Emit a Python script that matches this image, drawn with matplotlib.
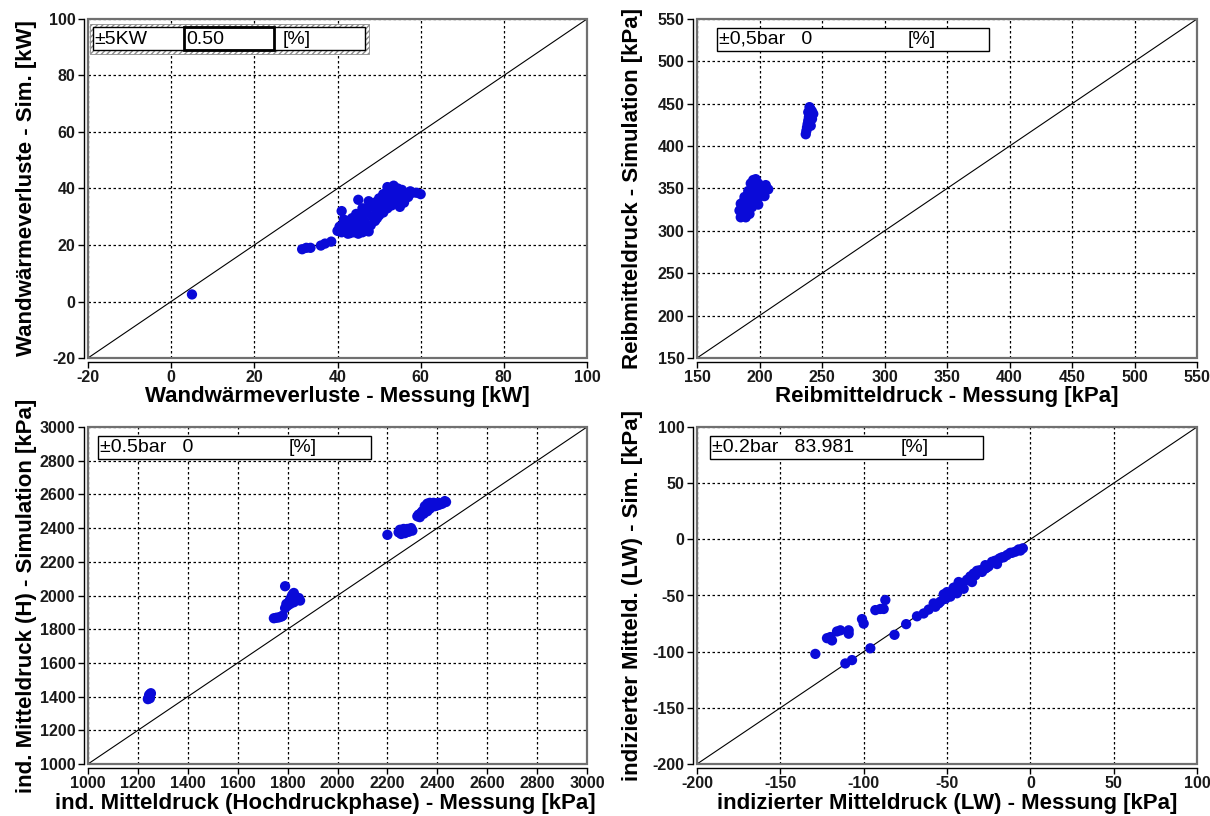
import matplotlib
matplotlib.use("Agg")
import matplotlib.pyplot as plt
from matplotlib.patches import Rectangle
import numpy as np

plt.rcParams['font.family'] = ['Liberation Sans', 'DejaVu Sans']
plt.rcParams['axes.unicode_minus'] = False

# ---------------- data ----------------
# Panel 1: Wandwärmeverluste [kW]
tl_x = [5.0, 31.5, 32.5, 33.5, 36.0, 37.0, 38.5,
        40.0, 40.5, 41.0, 41.0, 41.5, 42.0, 42.5, 43.0, 43.0, 43.5, 44.0, 44.5, 44.5,
        45.0, 45.0, 45.5, 45.5, 46.0, 46.0, 46.5, 47.0, 47.0, 47.5, 48.0, 48.0, 48.5,
        49.0, 49.0, 49.5, 50.0, 50.0, 50.5, 51.0, 51.0, 51.5, 52.0, 52.0, 52.5, 53.0,
        53.0, 53.5, 54.0, 54.0, 54.5, 55.0, 55.0, 55.5, 56.0, 56.0, 57.0, 57.5, 58.0,
        59.0, 60.0, 44.0, 47.5, 42.5, 41.5, 46.5, 49.5, 52.5, 55.5, 50.5]
tl_y = [2.5, 18.5, 19.0, 19.0, 19.8, 20.5, 21.2,
        25.0, 26.5, 24.5, 32.0, 27.5, 25.5, 28.5, 24.2, 27.0, 29.5, 25.5, 28.0, 31.0,
        24.0, 36.0, 26.5, 30.0, 24.5, 33.0, 28.5, 25.0, 31.5, 35.5, 27.0, 33.5, 30.0,
        28.5, 35.0, 32.0, 30.5, 36.5, 33.5, 31.5, 38.0, 35.0, 33.0, 40.5, 36.5, 34.0,
        39.0, 41.0, 35.5, 38.0, 40.0, 33.5, 37.0, 39.5, 35.0, 38.5, 37.0, 39.0, 38.5,
        38.5, 38.0, 24.5, 24.8, 24.0, 29.0, 26.0, 29.5, 38.5, 36.5, 35.0]

# Panel 2: Reibmitteldruck [kPa]
tr_x = [185, 187, 189, 184, 186, 185, 187, 190, 191, 189, 191, 188, 193, 194, 192, 194,
        193, 195, 197, 198, 199, 196, 200, 199, 202, 203, 205, 207, 204, 199, 192, 190,
        191, 197, 201, 205, 195,
        237, 237.5, 238, 238.5, 239, 239.5, 240, 239, 241, 240, 242, 243, 242, 240, 241]
tr_y = [316, 319, 316, 324, 328, 332, 334, 330, 323, 338, 342, 340, 332, 328, 346, 351,
        356, 360, 353, 346, 339, 336, 350, 356, 345, 351, 352, 349, 341, 331, 320, 326,
        347, 361, 343, 354, 341,
        414, 418, 422, 426, 430, 434, 437, 440, 443, 446, 441, 438, 432, 428, 424]

# Panel 3: ind. Mitteldruck (Hochdruckphase) [kPa]
bl_x = [1240, 1243, 1247, 1250, 1252, 1245, 1248,
        1745, 1755, 1765, 1775, 1780, 1790, 1790, 1800, 1805, 1795, 1810, 1815, 1820,
        1825, 1830, 1835, 1840, 1850, 1845, 1810, 1825,
        2200, 2245, 2250, 2255, 2260, 2265, 2270, 2275, 2280, 2285, 2290, 2295, 2300,
        2320, 2325, 2330, 2335, 2340, 2345, 2350, 2350, 2355, 2360, 2365, 2370, 2375,
        2380, 2385, 2390, 2395, 2400, 2405, 2410, 2420, 2430, 2435, 2360, 2370]
bl_y = [1385, 1395, 1405, 1415, 1420, 1410, 1390,
        1865, 1868, 1870, 1875, 1880, 2055, 1925, 1940, 1960, 1950, 1975, 1990, 2005,
        2015, 1990, 1980, 1975, 1970, 1985, 1950, 1960,
        2360, 2375, 2390, 2365, 2380, 2395, 2370, 2385, 2395, 2378, 2390, 2400, 2385,
        2470, 2480, 2465, 2490, 2500, 2485, 2510, 2530, 2520, 2545, 2535, 2550, 2525,
        2540, 2550, 2530, 2545, 2535, 2550, 2540, 2545, 2560, 2555, 2500, 2515]

# Panel 4: indizierter Mitteldruck (LW) [kPa]
br_x = [-129, -122, -119, -120, -116, -114, -109, -109, -101, -100, -93, -90, -88, -87,
        -111, -107, -96, -81.5, -74.5,
        -68, -64, -61, -57, -54, -51, -49, -47, -44, -41, -37, -34, -30, -27, -23, -18.5,
        -14, -9, -4.5,
        -52, -46, -42, -38, -33, -29, -25, -21, -16, -12, -7, -55, -40, -35, -31, -27,
        -20, -48, -44, -58, -50, -43, -36, -32, -26, -22, -17, -11, -6]
br_y = [-102, -88, -90, -87, -82, -81, -81, -84, -71, -75, -63, -62, -62, -54,
        -110.5, -107.5, -97, -85, -75.5,
        -68.5, -66, -62.5, -60, -55.5, -53, -50, -47, -42, -39, -36, -30.5, -27.5, -23,
        -20, -17, -14, -11, -8,
        -49, -43, -40, -36, -32, -29, -24, -19, -16, -12, -9, -57, -44, -38, -28, -26,
        -22, -51, -48, -57, -47, -38, -33, -28, -25, -20, -16, -12, -10]

panels = [
    dict(x=tl_x, y=tl_y, lim=(-20, 100), step=20,
         xlabel='Wandwärmeverluste - Messung [kW]',
         ylabel='Wandwärmeverluste - Sim. [kW]'),
    dict(x=tr_x, y=tr_y, lim=(150, 550), step=50,
         xlabel='Reibmitteldruck - Messung [kPa]',
         ylabel='Reibmitteldruck - Simulation [kPa]'),
    dict(x=bl_x, y=bl_y, lim=(1000, 3000), step=200,
         xlabel='ind. Mitteldruck (Hochdruckphase) - Messung [kPa]',
         ylabel='ind. Mitteldruck (H) - Simulation [kPa]'),
    dict(x=br_x, y=br_y, lim=(-200, 100), step=50,
         xlabel='indizierter Mitteldruck (LW) - Messung [kPa]',
         ylabel='indizierter Mitteld. (LW) - Sim. [kPa]'),
]

W, H = 1210, 816
fig = plt.figure(figsize=(W / 100, H / 100), dpi=100)
fig.patch.set_facecolor('white')

# axes boxes in pixel coords (left, top, right, bottom)
boxes = [(88, 19, 587, 358), (697, 19, 1197, 358),
         (88, 427, 587, 764), (697, 427, 1197, 764)]
ylabel_x = [37, 643, 37, 643]
xlabel_top = [386, 386, 793, 793]
xlabel_cx = [337, 947, 325, 947]

for p, (l, t, r, b), ylx, xlt, xlc in zip(panels, boxes, ylabel_x, xlabel_top, xlabel_cx):
    ax = fig.add_axes([l / W, 1 - b / H, (r - l) / W, (b - t) / H])
    lo, hi = p['lim']
    ax.set_xlim(lo, hi)
    ax.set_ylim(lo, hi)
    ticks = np.arange(lo, hi + p['step'] / 2, p['step'])
    ax.set_xticks(ticks)
    ax.set_yticks(ticks)
    ax.grid(True, color='black', linestyle=(0, (2, 2)), linewidth=0.9)
    ax.set_axisbelow(True)
    ax.plot([lo, hi], [lo, hi], color='black', linewidth=0.8, zorder=2)
    ax.scatter(p['x'], p['y'], s=55, color='#0a0ad8', edgecolors='none', zorder=3)
    for s in ['top', 'right']:
        ax.spines[s].set_visible(False)
    for s in ['left', 'bottom']:
        ax.spines[s].set_position(('outward', 3))
        ax.spines[s].set_linewidth(1.0)
        ax.spines[s].set_color('black')
    ax.add_patch(Rectangle((0, 0), 1, 1, transform=ax.transAxes, fill=False,
                           edgecolor='#707070', linewidth=1.6, clip_on=False, zorder=4))
    ax.tick_params(direction='out', length=4, width=1, labelsize=11.5, pad=2,
                   colors='black')
    for lab in ax.get_xticklabels() + ax.get_yticklabels():
        lab.set_fontweight('bold')
        lab.set_color('#1a1a1a')
    ax.set_xlabel(p['xlabel'], fontsize=16, fontweight='bold')
    ax.set_ylabel(p['ylabel'], fontsize=16, fontweight='bold')
    ax.xaxis.set_label_coords((xlc - l) / (r - l), (b - xlt) / (b - t))
    ax.yaxis.set_label_coords((ylx - l) / (r - l), 0.5)


def frect(x0, y0, x1, y1, **kw):
    r = Rectangle((x0 / W, 1 - y1 / H), (x1 - x0) / W, (y1 - y0) / H,
                  transform=fig.transFigure, **kw)
    fig.patches.append(r)
    return r


def ftext(x, yc, s, **kw):
    fig.text(x / W, 1 - yc / H, s, ha='left', va='center', fontsize=14,
             color='black', **kw)


# panel 1 info box (hatched)
frect(90, 24, 369, 54, facecolor='white', edgecolor='#8a8a8a', hatch='//////',
      linewidth=0.6)
frect(92.7, 27.3, 365, 50, facecolor='white', edgecolor='black', linewidth=1.0)
frect(184, 27.3, 274, 50, facecolor='none', edgecolor='black', linewidth=2.0)
ftext(94, 39, '±5KW')
ftext(186, 39, '0.50')
ftext(283, 39, '[%]')

# panel 2 info box
frect(717, 27.7, 989, 50.7, facecolor='white', edgecolor='black', linewidth=1.0)
ftext(719, 39.5, '±0,5bar   0')
ftext(908, 39.5, '[%]')

# panel 3 info box
frect(98, 436, 371, 458.5, facecolor='white', edgecolor='black', linewidth=1.0)
ftext(100, 447, '±0.5bar   0')
ftext(289, 447, '[%]')

# panel 4 info box
frect(710, 436, 983, 458.5, facecolor='white', edgecolor='black', linewidth=1.0)
ftext(712, 447, '±0.2bar   83.981')
ftext(901, 447, '[%]')

fig.savefig('out.png', dpi=100, facecolor='white')
